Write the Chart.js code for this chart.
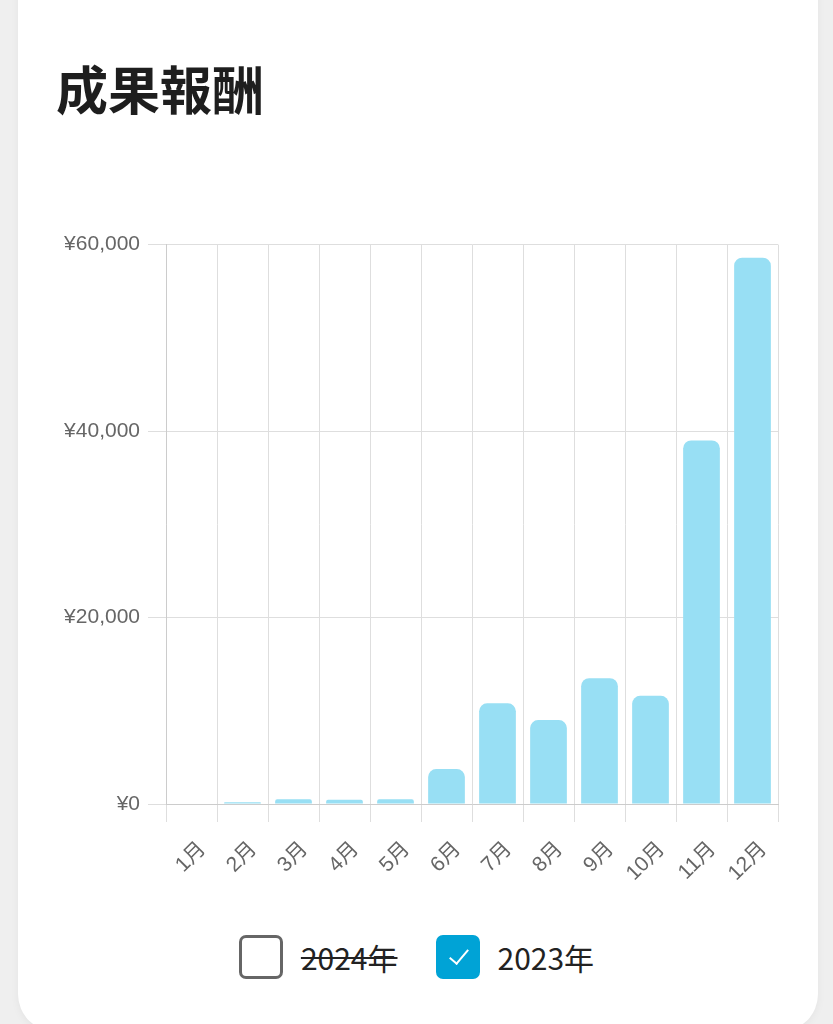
<!DOCTYPE html>
<html lang="ja">
<head>
<meta charset="utf-8">
<script src="https://cdn.jsdelivr.net/npm/chart.js@4"></script>
<style>
  html, body { margin: 0; padding: 0; width: 833px; height: 1024px; overflow: hidden; background: #efefef; }
  .card { position: absolute; left: 18px; top: -40px; width: 800px; height: 1072px; background: #fff;
          border-radius: 38px; box-shadow: 0 2px 8px rgba(0,0,0,0.05); }
  h1 { position: absolute; left: 56px; top: 50px; margin: 0; font: 700 52px "Noto Sans CJK JP", sans-serif; color: #1e1e1e; }
  #chartBox { position: absolute; left: 40px; top: 224px; width: 760px; height: 670px; }
  #legend { position: absolute; left: 0; top: 935px; width: 833px; display: flex; justify-content: center; gap: 38px; }
  .item { display: flex; align-items: center; cursor: pointer; font: 400 30px "Noto Sans CJK JP", sans-serif; color: #222; }
  .box { width: 38px; height: 38px; border: 3px solid #666; border-radius: 7px; margin-right: 18px; position: relative; background: #fff; }
  .item.on .box { background: #00a3d6; border-color: #00a3d6; }
  .item.on .box:after { content: ""; position: absolute; left: 15px; top: 7px; width: 8px; height: 17px;
          border: solid #fff; border-width: 0 2px 2px 0; transform: rotate(40deg); }
  .item.off .txt { text-decoration: line-through; text-decoration-thickness: 2px; }
</style>
</head>
<body>
<div class="card"></div>
<h1>成果報酬</h1>
<div id="chartBox"><canvas id="rewardChart" width="760" height="670"></canvas></div>
<div id="legend"></div>
<script>
// categories and values
var months = ['1月', '2月', '3月', '4月', '5月', '6月', '7月', '8月', '9月', '10月', '11月', '12月'];
var reward2023 = [60, 200, 500, 450, 500, 3750, 10800, 9000, 13500, 11600, 39000, 58600];
var reward2024 = []; // hidden in the picture
var yTicks = [0, 20000, 40000, 60000];

var tickFont = { family: "'Liberation Sans', 'Noto Sans CJK JP', sans-serif", size: 21 };

var chart = new Chart(document.getElementById('rewardChart'), {
  type: 'bar',
  data: {
    labels: months,
    datasets: [
      { label: '2024年', data: reward2024, hidden: true, backgroundColor: '#f6c27c', borderRadius: 8, borderSkipped: 'bottom' },
      { label: '2023年', data: reward2023, backgroundColor: '#98dff4', borderRadius: 8, borderSkipped: 'bottom' }
    ]
  },
  options: {
    responsive: false,
    animation: false,
    layout: { padding: { top: 6, right: 22 } },
    plugins: { legend: { display: false }, tooltip: { enabled: false } },
    scales: {
      x: {
        grid: { color: '#dedede', tickLength: 18, offset: true },
        border: { color: '#cccccc' },
        ticks: { color: '#666', font: tickFont, minRotation: 45, maxRotation: 45, padding: 15, labelOffset: 11 },
        afterFit: function (s) { s.height = 90; }
      },
      y: {
        min: 0, max: 60000,
        grid: { color: '#dedede', tickLength: 18 },
        border: { color: '#cccccc' },
        afterBuildTicks: function (s) { s.ticks = yTicks.map(function (v) { return { value: v }; }); },
        ticks: { color: '#666', font: tickFont, padding: 8,
          callback: function (v) { return '¥' + v.toLocaleString('en-US'); } },
        afterFit: function (s) { s.width = 126; }
      }
    }
  }
});

// checkbox style legend
function buildLegend() {
  var el = document.getElementById('legend');
  el.innerHTML = '';
  chart.data.datasets.forEach(function (ds, i) {
    var item = document.createElement('div');
    item.className = 'item ' + (chart.isDatasetVisible(i) ? 'on' : 'off');
    item.innerHTML = '<span class="box"></span><span class="txt">' + ds.label + '</span>';
    item.onclick = function () {
      chart.setDatasetVisibility(i, !chart.isDatasetVisible(i));
      chart.update();
      buildLegend();
    };
    el.appendChild(item);
  });
}
buildLegend();
</script>
</body>
</html>
